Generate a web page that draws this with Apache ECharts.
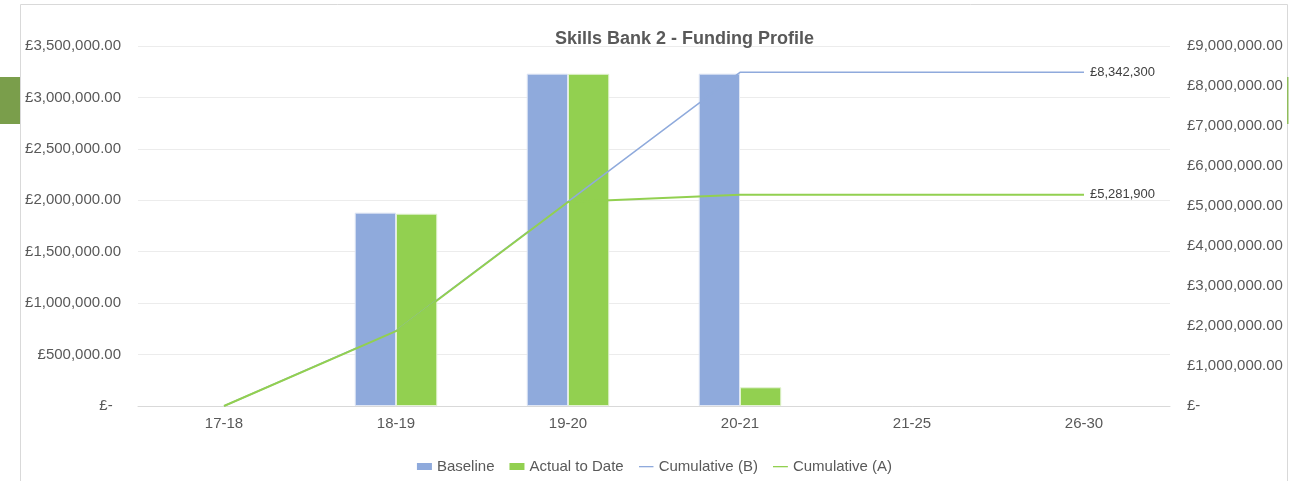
<!DOCTYPE html>
<html>
<head>
<meta charset="utf-8">
<script src="https://cdn.jsdelivr.net/npm/echarts@6/dist/echarts.min.js"></script>
<style>
html,body{margin:0;padding:0;background:#fff;}
#c{width:1309px;height:481px;}
</style>
</head>
<body>
<div id="c"></div>
<script>
const categories = ['17-18', '18-19', '19-20', '20-21', '21-25', '26-30'];
const baseline = [0, 1880000, 3231150, 3231150, 0, 0];
const actualToDate = [0, 1870000, 3230000, 181900, 0, 0];
const cumulativeB = [0, 1880000, 5111150, 8342300, 8342300, 8342300];
const cumulativeA = [0, 1870000, 5100000, 5281900, 5281900, 5281900];

function fmtNum(v, dec) {
  const neg = v < 0; v = Math.abs(v);
  let s = v.toFixed(dec);
  let parts = s.split('.');
  parts[0] = parts[0].replace(/\B(?=(\d{3})+(?!\d))/g, ',');
  return (neg ? '-' : '') + parts.join('.');
}
function axisFmtLeft(v) { return v === 0 ? '£-  ' : '£' + fmtNum(v, 2); }
function axisFmtRight(v) { return v === 0 ? '£-' : '£' + fmtNum(v, 2); }
// zero-height bars are not drawn (as in the source chart)
function barData(arr) { return arr.map(v => v === 0 ? '-' : v); }
function lineIcon(color) {
  const svg = "<svg xmlns='http://www.w3.org/2000/svg' width='15' height='7'><rect x='0' y='3' width='15' height='1.3' fill='" + color + "'/></svg>";
  return 'image://data:image/svg+xml;charset=utf-8,' + encodeURIComponent(svg);
}

const chart = echarts.init(document.getElementById('c'));
const textColor = '#595959';
const font = 'Liberation Sans, Arial, sans-serif';
chart.setOption({
  animation: false,
  textStyle: { fontFamily: font },
  graphic: [
    { type: 'rect', shape: { x: 20.5, y: 4.5, width: 1267, height: 500 }, style: { fill: 'none', stroke: '#d9d9d9', lineWidth: 1 }, silent: true },
    { type: 'rect', shape: { x: 0, y: 77, width: 20, height: 47 }, style: { fill: '#7a9e4b' }, silent: true },
    { type: 'rect', shape: { x: 1287, y: 77, width: 1.5, height: 47 }, style: { fill: '#8fbc5c' }, silent: true }
  ],
  title: {
    text: 'Skills Bank 2 - Funding Profile',
    left: 550,
    top: 25,
    textStyle: { fontSize: 18, fontWeight: 'bold', color: textColor, fontFamily: font }
  },
  legend: {
    bottom: 2,
    left: 'center',
    itemWidth: 15,
    itemHeight: 7,
    itemGap: 15,
    textStyle: { fontSize: 15, color: textColor, fontFamily: font },
    data: [
      { name: 'Baseline', icon: 'rect', itemStyle: { borderWidth: 0 } },
      { name: 'Actual to Date', icon: 'rect', itemStyle: { borderWidth: 0 } },
      { name: 'Cumulative (B)', icon: lineIcon('#8faadc') },
      { name: 'Cumulative (A)', icon: lineIcon('#92d050') }
    ]
  },
  grid: { left: 138, right: 139, top: 46, bottom: 75 },
  xAxis: {
    type: 'category',
    data: categories,
    axisTick: { show: false },
    axisLine: { lineStyle: { color: '#d9d9d9', width: 1 } },
    axisLabel: { color: textColor, fontSize: 15, margin: 10, fontFamily: font }
  },
  yAxis: [
    {
      type: 'value', min: 0, max: 3500000, interval: 500000,
      axisLine: { show: false }, axisTick: { show: false },
      splitLine: { lineStyle: { color: '#ececec', width: 1 } },
      axisLabel: { color: textColor, fontSize: 15, margin: 17, formatter: axisFmtLeft, fontFamily: font }
    },
    {
      type: 'value', min: 0, max: 9000000, interval: 1000000,
      axisLine: { show: false }, axisTick: { show: false },
      splitLine: { show: false },
      axisLabel: { color: textColor, fontSize: 15, margin: 17, formatter: axisFmtRight, fontFamily: font }
    }
  ],
  series: [
    {
      name: 'Baseline', type: 'bar', yAxisIndex: 0, data: barData(baseline),
      barGap: '0%', barCategoryGap: '52%',
      itemStyle: { color: '#8faadc', borderColor: '#dfe6f4', borderWidth: 1 }
    },
    {
      name: 'Actual to Date', type: 'bar', yAxisIndex: 0, data: barData(actualToDate),
      barGap: '0%', barCategoryGap: '52%',
      itemStyle: { color: '#92d050', borderColor: '#e3f3d3', borderWidth: 1 }
    },
    {
      name: 'Cumulative (B)', type: 'line', yAxisIndex: 1, data: cumulativeB,
      symbol: 'none', z: 5,
      lineStyle: { color: '#8faadc', width: 1.5 },
      itemStyle: { color: '#8faadc' },
      endLabel: { show: true, distance: 6, color: '#404040', fontSize: 13, fontFamily: font,
        formatter: p => '£' + fmtNum(p.value, 0) }
    },
    {
      name: 'Cumulative (A)', type: 'line', yAxisIndex: 1, data: cumulativeA,
      symbol: 'none', z: 6,
      lineStyle: { color: '#92d050', width: 2 },
      itemStyle: { color: '#92d050' },
      endLabel: { show: true, distance: 6, color: '#404040', fontSize: 13, fontFamily: font,
        formatter: p => '£' + fmtNum(p.value, 0) }
    }
  ]
});
</script>
</body>
</html>
